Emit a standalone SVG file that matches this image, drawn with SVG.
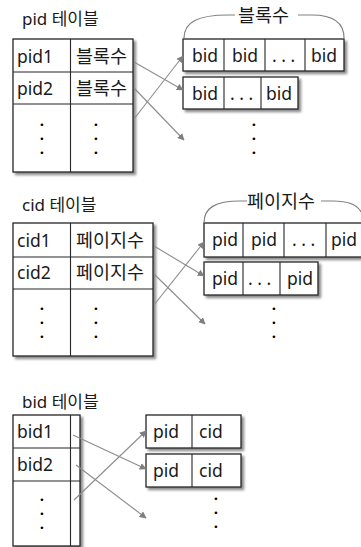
<svg xmlns="http://www.w3.org/2000/svg" width="361" height="547" viewBox="0 0 361 547">
<defs>
<filter id="sh" x="-10%" y="-10%" width="130%" height="130%">
<feDropShadow dx="2.5" dy="2.5" stdDeviation="1.3" flood-color="#000" flood-opacity="0.45"/>
</filter>
<marker id="ah" viewBox="0 0 10 10" refX="9" refY="5" markerWidth="7" markerHeight="7" orient="auto" markerUnits="userSpaceOnUse">
<path d="M0,0 L10,5 L0,10 z" fill="#7f7f7f"/>
</marker>
</defs>
<style>
text{font-family:"Noto Sans","Noto Sans CJK KR",sans-serif;font-size:17.5px;fill:#1a1a1a}
.t{font-size:17px}
.k{font-size:18.5px}
.box{fill:#fff;stroke:#262626;stroke-width:1.3;filter:url(#sh)}
.ln{stroke:#262626;stroke-width:1.1;fill:none}
.con{stroke:#8c8c8c;stroke-width:1.1;fill:none;marker-end:url(#ah)}
.br{stroke:#808080;stroke-width:1.2;fill:none}
.d{font-family:"DejaVu Sans",sans-serif;font-size:9px;text-anchor:middle;fill:#000}
</style>

<!-- Section 1: pid table -->
<g id="pid-title"><text class="t" x="22" y="25">pid 테이블</text></g>
<g id="pid-table">
<rect class="box" x="13" y="39" width="120" height="133"/>
<line class="ln" x1="13" y1="72" x2="133" y2="72"/>
<line class="ln" x1="13" y1="104" x2="133" y2="104"/>
<line class="ln" x1="70.5" y1="39" x2="70.5" y2="172"/>
<text x="17" y="63">pid1</text>
<text class="k" x="76" y="63">블록수</text>
<text x="17" y="95">pid2</text>
<text class="k" x="76" y="95">블록수</text>
<text class="d" x="42" y="128">•<tspan x="42" dy="14">•</tspan><tspan x="42" dy="14">•</tspan></text>
<text class="d" x="96" y="128">•<tspan x="96" dy="14">•</tspan><tspan x="96" dy="14">•</tspan></text>
</g>
<g id="pid-list1">
<rect class="box" x="183" y="39" width="161" height="32"/>
<line class="ln" x1="224" y1="39" x2="224" y2="71"/>
<line class="ln" x1="265" y1="39" x2="265" y2="71"/>
<line class="ln" x1="305" y1="39" x2="305" y2="71"/>
<text x="192" y="62">bid</text>
<text x="232" y="62">bid</text>
<text x="272" y="62">. . .</text>
<text x="311" y="62">bid</text>
</g>
<g id="pid-list2">
<rect class="box" x="183" y="77" width="115" height="32"/>
<line class="ln" x1="224" y1="77" x2="224" y2="109"/>
<line class="ln" x1="261" y1="77" x2="261" y2="109"/>
<text x="192" y="100">bid</text>
<text x="230" y="100">. . .</text>
<text x="266" y="100">bid</text>
</g>
<g id="pid-more"><text class="d" x="254" y="128">•<tspan x="254" dy="14">•</tspan><tspan x="254" dy="14">•</tspan></text></g>
<g id="pid-brace">
<path class="br" d="M184,38 C184,22 198,15 228,15 H235 M298,15 H312 C332,15 344,22 344,38"/>
<text class="k" x="238" y="22">블록수</text>
</g>

<!-- Section 2: cid table -->
<g id="cid-title"><text class="t" x="22" y="211">cid 테이블</text></g>
<g id="cid-table">
<rect class="box" x="13" y="223" width="140" height="133"/>
<line class="ln" x1="13" y1="257" x2="153" y2="257"/>
<line class="ln" x1="13" y1="289" x2="153" y2="289"/>
<line class="ln" x1="70.5" y1="223" x2="70.5" y2="356"/>
<text x="17" y="247">cid1</text>
<text class="k" x="76" y="247">페이지수</text>
<text x="17" y="279">cid2</text>
<text class="k" x="76" y="279">페이지수</text>
<text class="d" x="42" y="312">•<tspan x="42" dy="14">•</tspan><tspan x="42" dy="14">•</tspan></text>
<text class="d" x="96" y="312">•<tspan x="96" dy="14">•</tspan><tspan x="96" dy="14">•</tspan></text>
</g>
<g id="cid-list1">
<rect class="box" x="204" y="223" width="164" height="34"/>
<line class="ln" x1="243" y1="223" x2="243" y2="257"/>
<line class="ln" x1="284" y1="223" x2="284" y2="257"/>
<line class="ln" x1="326" y1="223" x2="326" y2="257"/>
<text x="212" y="246">pid</text>
<text x="251" y="246">pid</text>
<text x="292" y="246">. . .</text>
<text x="331" y="246">pid</text>
</g>
<g id="cid-list2">
<rect class="box" x="204" y="262" width="114" height="33"/>
<line class="ln" x1="243" y1="262" x2="243" y2="295"/>
<line class="ln" x1="280" y1="262" x2="280" y2="295"/>
<text x="212" y="285">pid</text>
<text x="248" y="285">. . .</text>
<text x="287" y="285">pid</text>
</g>
<g id="cid-more"><text class="d" x="274" y="312">•<tspan x="274" dy="14">•</tspan><tspan x="274" dy="14">•</tspan></text></g>
<g id="cid-brace">
<path class="br" d="M204,223 C204,208 215,201 240,201 H247 M321,201 H333 C350,201 358,206 361,212"/>
<text class="k" x="247" y="208">페이지수</text>
</g>

<!-- Section 3: bid table -->
<g id="bid-title"><text class="t" x="22" y="408">bid 테이블</text></g>
<g id="bid-table">
<rect class="box" x="13" y="415" width="67" height="131"/>
<line class="ln" x1="13" y1="448" x2="80" y2="448"/>
<line class="ln" x1="13" y1="481" x2="80" y2="481"/>
<line class="ln" x1="70.5" y1="415" x2="70.5" y2="546"/>
<text x="17" y="438">bid1</text>
<text x="17" y="471">bid2</text>
<text class="d" x="42" y="503">•<tspan x="42" dy="14">•</tspan><tspan x="42" dy="14">•</tspan></text>
</g>
<g id="bid-row1">
<rect class="box" x="146" y="415" width="95" height="33"/>
<line class="ln" x1="192" y1="415" x2="192" y2="448"/>
<text x="153" y="438">pid</text>
<text x="199" y="438">cid</text>
</g>
<g id="bid-row2">
<rect class="box" x="146" y="454" width="95" height="33"/>
<line class="ln" x1="192" y1="454" x2="192" y2="487"/>
<text x="153" y="477">pid</text>
<text x="199" y="477">cid</text>
</g>
<g id="bid-more"><text class="d" x="216" y="502">•<tspan x="216" dy="14">•</tspan><tspan x="216" dy="14">•</tspan></text></g>

<!-- Connectors -->
<g id="connectors">
<line class="con" x1="134" y1="62" x2="183" y2="90"/>
<line class="con" x1="134" y1="88" x2="184" y2="140"/>
<line class="con" x1="134" y1="119" x2="183" y2="56"/>
<line class="con" x1="154" y1="246" x2="204" y2="276"/>
<line class="con" x1="154" y1="274" x2="205" y2="324"/>
<line class="con" x1="154" y1="305" x2="204" y2="242"/>
<line class="con" x1="73" y1="435" x2="146" y2="469"/>
<line class="con" x1="76" y1="465" x2="146" y2="518"/>
<line class="con" x1="74" y1="500" x2="146" y2="431"/>
</g>
</svg>
